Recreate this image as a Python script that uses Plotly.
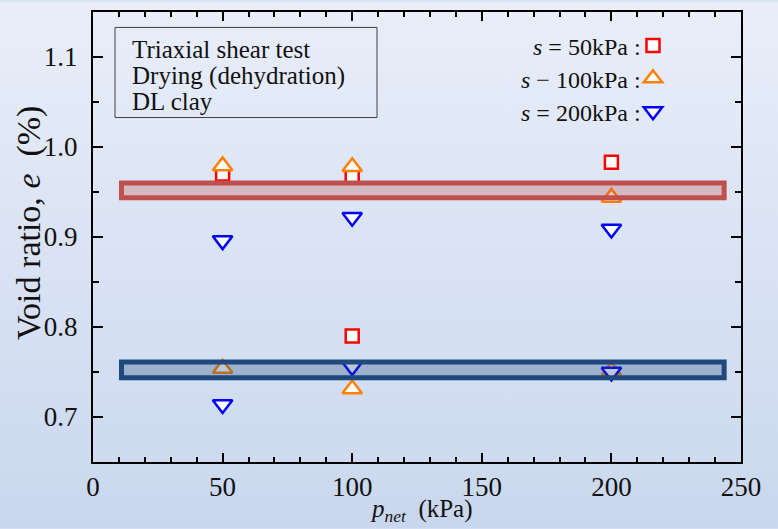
import plotly.graph_objects as go

# ---- data ----
p_net_50 = [50, 100, 200, 100]
e_50 = [0.970, 0.968, 0.983, 0.790]

p_net_100 = [50, 100, 200, 50, 100, 200]
e_100 = [0.979, 0.978, 0.944, 0.754, 0.731, 0.751]

p_net_200 = [50, 100, 200, 50, 100, 200]
e_200 = [0.896, 0.922, 0.909, 0.714, 0.756, 0.750]

band_x = [11, 243.5]
band_low = [0.9437, 0.7436]
band_high = [0.9600, 0.7612]
band_line = ["#c0504d", "#1f497d"]
band_fill = ["rgba(192,80,77,0.30)", "rgba(31,73,125,0.30)"]

legend_labels = ["<i>s</i> = 50kPa :", "<i>s</i> − 100kPa :", "<i>s</i> = 200kPa :"]
box_lines = ["Triaxial shear test", "Drying (dehydration)", "DL clay"]

SERIF = "Liberation Serif, Times New Roman, serif"

W, H = 778, 529
L, R, T, B = 93, 37, 10, 67
PW, PH = W - L - R, H - T - B


def px_x(x):
    return (x - L) / PW


def px_y(y):
    return (H - B - y) / PH


fig = go.Figure()

fig.add_trace(go.Scatter(
    x=p_net_50, y=e_50, mode="markers", name=" ",
    marker=dict(symbol="square", size=13, color="white",
                line=dict(color="#ff0000", width=2.5))))
fig.add_trace(go.Scatter(
    x=p_net_100, y=e_100, mode="markers", name=" ",
    marker=dict(symbol="triangle-up", size=17, color="white",
                line=dict(color="#ff8000", width=2.5))))
fig.add_trace(go.Scatter(
    x=p_net_200, y=e_200, mode="markers", name=" ",
    marker=dict(symbol="triangle-down", size=17, color="white",
                line=dict(color="#0000ff", width=2.5))))

shapes = []
for lo, hi, lc, fc in zip(band_low, band_high, band_line, band_fill):
    shapes.append(dict(type="rect", xref="x", yref="y",
                       x0=band_x[0], x1=band_x[1], y0=lo, y1=hi,
                       line=dict(color=lc, width=5), fillcolor=fc,
                       layer="above"))
# text box frame
shapes.append(dict(type="rect", xref="paper", yref="paper",
                   x0=px_x(115), x1=px_x(377), y0=px_y(116), y1=px_y(25.5),
                   line=dict(color="#404040", width=1), fillcolor="rgba(0,0,0,0)"))

annotations = []
for i, t in enumerate(box_lines):
    annotations.append(dict(text=t, xref="paper", yref="paper",
                            x=px_x(130), y=px_y(48 + 26 * i),
                            xanchor="left", yanchor="middle", showarrow=False,
                            font=dict(family=SERIF, size=25, color="#111111")))
for i, t in enumerate(legend_labels):
    annotations.append(dict(text=t, xref="paper", yref="paper",
                            x=px_x(643), y=px_y(45 + 33 * i),
                            xanchor="right", yanchor="middle", showarrow=False,
                            font=dict(family=SERIF, size=24, color="#111111")))
annotations.append(dict(text="Void ratio, <i>e</i>  (%)", xref="paper", yref="paper",
                        x=px_x(29), y=px_y(222), textangle=-90,
                        xanchor="center", yanchor="middle", showarrow=False,
                        font=dict(family=SERIF, size=34, color="#111111")))
annotations.append(dict(text="<i>p</i><sub><i>net</i></sub>  (kPa)", xref="paper", yref="paper",
                        x=px_x(421), y=px_y(511),
                        xanchor="center", yanchor="middle", showarrow=False,
                        font=dict(family=SERIF, size=25, color="#111111")))

grad_svg = ("data:image/svg+xml;utf8,"
            "<svg xmlns='http://www.w3.org/2000/svg' width='10' height='100' preserveAspectRatio='none'>"
            "<defs><linearGradient id='g' x1='0' y1='0' x2='0' y2='1'>"
            "<stop offset='0' stop-color='%23e9eef9'/><stop offset='1' stop-color='%23c9d7ee'/>"
            "</linearGradient></defs><rect width='10' height='100' fill='url(%23g)'/></svg>")

fig.update_layout(
    width=W, height=H,
    margin=dict(l=L, r=R, t=T, b=B),
    paper_bgcolor="#dbe4f3", plot_bgcolor="rgba(0,0,0,0)",
    font=dict(family=SERIF, size=26, color="#111111"),
    shapes=shapes, annotations=annotations,
    images=[dict(source=grad_svg, xref="paper", yref="paper",
                 x=px_x(0), y=px_y(0), sizex=W / PW, sizey=H / PH,
                 xanchor="left", yanchor="top", sizing="stretch", layer="below")],
    showlegend=True,
    legend=dict(x=px_x(633), y=px_y(22), xanchor="left", yanchor="top",
                bgcolor="rgba(0,0,0,0)", borderwidth=0,
                font=dict(size=23), itemsizing="trace", tracegroupgap=0),
)

fig.update_xaxes(range=[0, 250], dtick=50, tick0=0,
                 showline=True, linecolor="black", linewidth=2, mirror="allticks",
                 ticks="inside", ticklen=9, tickwidth=2, tickcolor="black",
                 minor=dict(dtick=10, ticks="inside", ticklen=5, tickwidth=1.5, tickcolor="black"),
                 showgrid=False, zeroline=False, ticklabelstandoff=0,
                 tickfont=dict(family=SERIF, size=27, color="#111111"))
fig.update_yaxes(range=[0.65, 1.15], dtick=0.1, tick0=0.7, tickformat=".1f",
                 showline=True, linecolor="black", linewidth=2, mirror="allticks",
                 ticks="inside", ticklen=10, tickwidth=2, tickcolor="black",
                 minor=dict(dtick=0.05, ticks="inside", ticklen=6, tickwidth=1.5, tickcolor="black"),
                 showgrid=False, zeroline=False, ticklabelstandoff=8,
                 tickfont=dict(family=SERIF, size=27, color="#111111"))

fig.write_html("out.html")
